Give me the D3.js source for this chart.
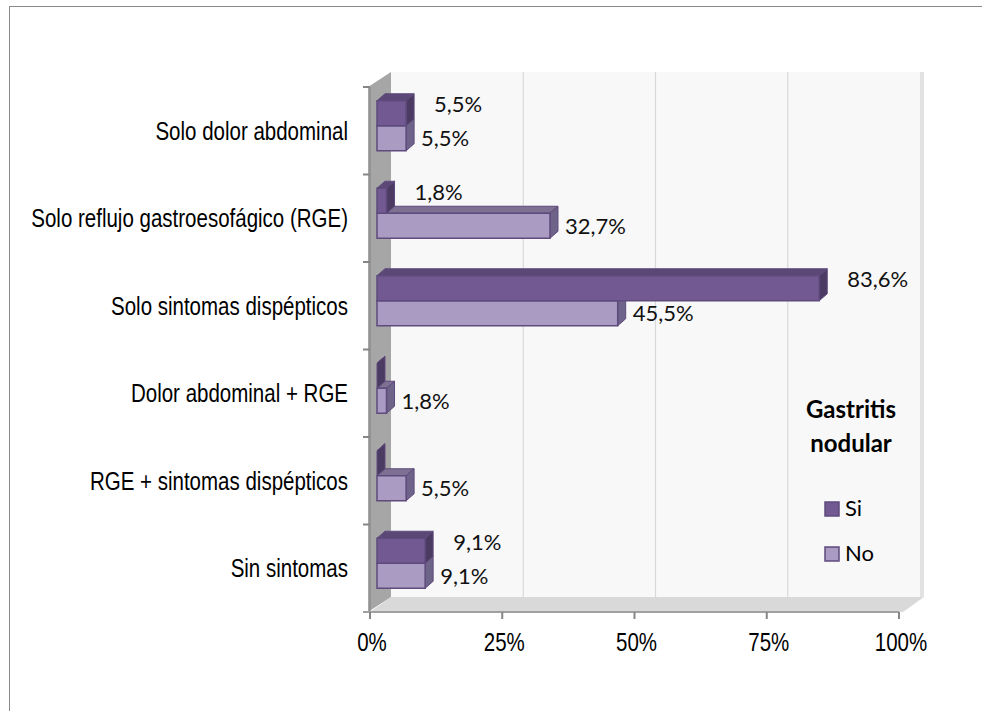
<!DOCTYPE html>
<html>
<head>
<meta charset="utf-8">
<script src="https://cdn.jsdelivr.net/npm/d3@7"></script>
<style>
html,body{margin:0;padding:0;background:#fff;}
svg{display:block;}
</style>
</head>
<body>
<svg id="chart" width="982" height="711"></svg>
<script>
const categories = ["Solo dolor abdominal","Solo reflujo gastroesofágico (RGE)","Solo sintomas dispépticos","Dolor abdominal + RGE","RGE + sintomas dispépticos","Sin sintomas"];
const seriesNames = ["Si","No"];
const siValues = [5.5, 1.8, 83.6, 0, 0, 9.1];
const noValues = [5.5, 32.7, 45.5, 1.8, 5.5, 9.1];
const xTicks = [0, 25, 50, 75, 100];
const legendTitle = ["Gastritis", "nodular"];

const svg = d3.select("#chart");
const W = 982, H = 711;

// frame
svg.append("rect").attr("x",9.5).attr("y",6.5).attr("width",W).attr("height",H)
  .attr("fill","#fff").attr("stroke","#8a8a8a").attr("stroke-width",1);

const x = d3.scaleLinear().domain([0,100]).range([370,899]);
const y = d3.scaleBand().domain(categories).range([87,612]);
const ySub = d3.scaleBand().domain(seriesNames).range([0,y.bandwidth()]).paddingInner(0).paddingOuter(0.75);

const D = {dx:21, dy:-15};   // full depth
const B = {dx:7, dy:-5};     // bar front plane offset
const bd = {dx:8, dy:-7};    // bar depth

const x0 = x(0), x1 = x(100), yTop = 87, yBot = 612;
const pts = a => a.map(p => p.join(",")).join(" ");

// back wall
svg.append("polygon").attr("points", pts([[x0+D.dx,yTop+D.dy],[x1+D.dx,yTop+D.dy],[x1+D.dx,yBot+D.dy],[x0+D.dx,yBot+D.dy]]))
  .attr("fill","#f8f8f8");
svg.append("rect").attr("x",x1+D.dx).attr("y",yTop+D.dy).attr("width",4).attr("height",yBot-yTop)
  .attr("fill","#e2e2e2");
// gridlines
svg.selectAll(".grid").data(xTicks.filter(t=>t>0 && t<100)).enter().append("line")
  .attr("x1",d=>x(d)+D.dx).attr("x2",d=>x(d)+D.dx)
  .attr("y1",yTop+D.dy).attr("y2",yBot+D.dy)
  .attr("stroke","#d9d9d9").attr("stroke-width",1.2);

// floor
svg.append("polygon").attr("points", pts([[x0,yBot],[x0+D.dx,yBot+D.dy],[x1+D.dx+4,yBot+D.dy],[x1+4,yBot]]))
  .attr("fill","#d9d9d9");
// left wall
svg.append("polygon").attr("points", pts([[x0-2,yTop],[x0+D.dx,yTop+D.dy],[x0+D.dx,yBot+D.dy],[x0-2,yBot]]))
  .attr("fill","#a6a6a6");
svg.append("line").attr("x1",x0).attr("x2",x0).attr("y1",yTop).attr("y2",yBot)
  .attr("stroke","#8c8c8c").attr("stroke-width",1.5);

// axes
const axisColor = "#868686";
const bounds = categories.map(c=>y(c)).concat([yBot]);
svg.selectAll(".ytick").data(bounds).enter().append("line")
  .attr("x1",x0-7).attr("x2",x0).attr("y1",d=>d).attr("y2",d=>d)
  .attr("stroke",axisColor).attr("stroke-width",2);
svg.append("line").attr("x1",x0-7).attr("x2",x1).attr("y1",yBot).attr("y2",yBot)
  .attr("stroke","#a0a0a0").attr("stroke-width",2);
svg.selectAll(".xtick").data(xTicks).enter().append("line")
  .attr("x1",d=>x(d)).attr("x2",d=>x(d)).attr("y1",yBot).attr("y2",yBot+7)
  .attr("stroke",axisColor).attr("stroke-width",2);

// tick labels (Arial Narrow-like)
const narrow = 0.82;
svg.selectAll(".xlab").data(xTicks).enter().append("text")
  .attr("transform",d=>`translate(${x(d)+2},651) scale(${narrow},1)`)
  .attr("text-anchor","middle")
  .attr("font-family","'Liberation Sans', Arial, sans-serif").attr("font-size",25)
  .attr("fill","#000").text(d=>d+"%");

svg.selectAll(".ylab").data(categories).enter().append("text")
  .attr("transform",d=>`translate(348,${y(d)+y.bandwidth()/2+9}) scale(${narrow},1)`)
  .attr("text-anchor","end")
  .attr("font-family","'Liberation Sans', Arial, sans-serif").attr("font-size",25)
  .attr("fill","#000").text(d=>d);

// bars
const colors = {
  Si: {front:"#735991", top:"#5b4877", side:"#4b3b63"},
  No: {front:"#a99bc1", top:"#7d7092", side:"#6e6388"}
};
const stroke = "#5e4a7c";
const data = categories.map((c,i)=>({cat:c, Si:siValues[i], No:noValues[i]}));

function drawBar(g, cat, s, v){
  const xs = x(0)+B.dx, xe = x(v)+B.dx;
  const yt = y(cat)+ySub(s)+B.dy, h = ySub.bandwidth(), yb = yt+h;
  const c = colors[s];
  g.append("polygon").attr("points", pts([[xs,yt],[xs+bd.dx,yt+bd.dy],[xe+bd.dx,yt+bd.dy],[xe,yt]]))
    .attr("fill",c.top).attr("stroke",stroke).attr("stroke-width",1).attr("stroke-linejoin","round");
  g.append("polygon").attr("points", pts([[xe,yt],[xe+bd.dx,yt+bd.dy],[xe+bd.dx,yb+bd.dy],[xe,yb]]))
    .attr("fill",c.side).attr("stroke",stroke).attr("stroke-width",1).attr("stroke-linejoin","round");
  if (xe > xs) {
    g.append("rect").attr("x",xs).attr("y",yt).attr("width",xe-xs).attr("height",h)
      .attr("fill",c.front).attr("stroke",stroke).attr("stroke-width",1.5);
  }
}
const gBars = svg.append("g");
data.forEach(d=>{
  drawBar(gBars, d.cat, "No", d.No);
  drawBar(gBars, d.cat, "Si", d.Si);
});

// data labels
const fmt = v => String(v.toFixed(1)).replace(".",",")+"%";
const gLab = svg.append("g").attr("font-family","Lato, 'Open Sans', sans-serif").attr("font-size",22).attr("fill","#111");
data.forEach(d=>{
  if (d.No > 0) {
    const yc = y(d.cat)+ySub("No")+B.dy+ySub.bandwidth()/2;
    gLab.append("text").attr("x",x(d.No)+B.dx+bd.dx+7).attr("y",yc+8).text(fmt(d.No));
  }
  if (d.Si > 0) {
    const yc = y(d.cat)+ySub("Si")+B.dy+ySub.bandwidth()/2;
    gLab.append("text").attr("x",x(d.Si)+B.dx+bd.dx+20).attr("y",yc-1).text(fmt(d.Si));
  }
});

// legend
const lg = svg.append("g");
lg.selectAll(".lt").data(legendTitle).enter().append("text")
  .attr("x",851).attr("y",(d,i)=>418+i*34).attr("text-anchor","middle")
  .attr("font-family","Lato, 'Open Sans', sans-serif").attr("font-weight","bold").attr("font-size",24)
  .attr("fill","#000").text(d=>d);
seriesNames.forEach((s,i)=>{
  const yy = 502 + i*45;
  lg.append("rect").attr("x",825).attr("y",yy).attr("width",14).attr("height",14)
    .attr("fill",colors[s].front).attr("stroke",stroke).attr("stroke-width",1.5);
  lg.append("text").attr("x",845).attr("y",yy+14).attr("font-family","Lato, 'Open Sans', sans-serif")
    .attr("font-size",22).attr("fill","#000").text(s);
});
</script>
</body>
</html>
